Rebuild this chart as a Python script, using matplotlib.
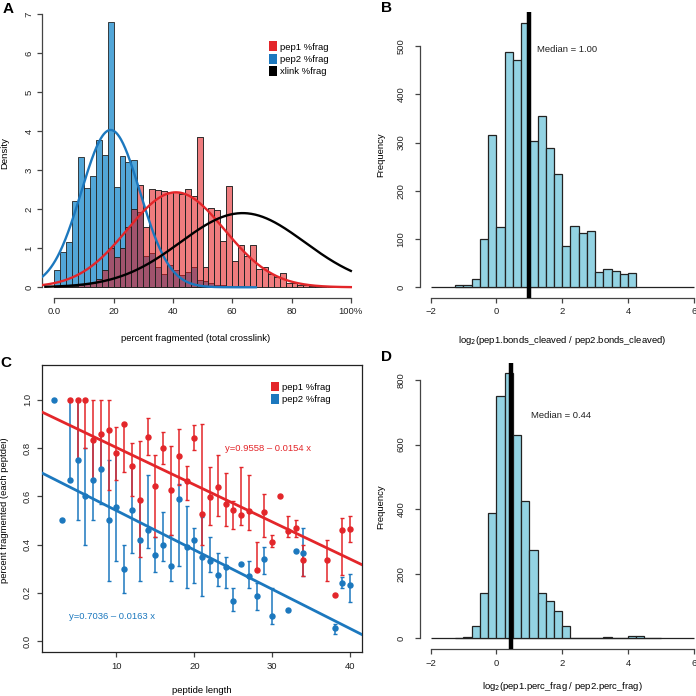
import numpy as np
import matplotlib
matplotlib.use("Agg")
import matplotlib.pyplot as plt
from matplotlib.patches import Patch
import math

plt.rcParams['font.family'] = ['Liberation Sans', 'DejaVu Sans']

# ---------------- data ----------------
# Panel A: density histograms (bin width 0.02, starting at 0)
pep1_density = [0.01, 0.02, 0.03, 0.04, 0.05, 0.08, 0.12, 0.20, 0.45, 1.00,
                0.78, 1.00, 1.55, 2.00, 2.62, 1.55, 2.53, 2.50, 2.47, 2.45,
                2.45, 2.40, 2.53, 2.35, 3.85, 0.53, 2.02, 1.97, 1.18, 2.59,
                0.68, 1.08, 0.80, 1.09, 0.48, 0.52, 0.33, 0.27, 0.37, 0.12,
                0.10, 0.06, 0.05, 0.04, 0.02, 0.01, 0.0, 0.0, 0.0, 0.0]
pep2_density = [0.44, 0.90, 1.17, 2.20, 3.35, 2.55, 2.85, 3.77, 3.40, 6.80,
                2.58, 3.37, 3.20, 3.25, 1.92, 0.80, 0.87, 0.53, 0.34, 0.57,
                0.45, 0.31, 0.39, 0.52, 0.18, 0.15, 0.10, 0.07, 0.05, 0.04,
                0.03, 0.02, 0.01, 0.01]
bin_width_A = 0.02
# fitted normal curves (mean, sd)
pep1_fit = (0.41, 0.164)
pep2_fit = (0.19, 0.099)
xlink_fit = (0.635, 0.21)
A_xticks = [0.0, 0.2, 0.4, 0.6, 0.8, 1.0]
A_xticklabels = ['0.0', '20', '40', '60', '80', '100%']
A_legend = ['pep1 %frag', 'pep2 %frag', 'xlink %frag']

# Panel B: histogram of log2 bonds cleaved ratio (bin width 0.25 from -1.25)
B_counts = [5, 4, 18, 99, 315, 124, 488, 471, 549, 304, 356, 289, 235, 86,
            126, 113, 117, 32, 38, 33, 28, 29]
B_start = -1.25
B_median = 1.00

# Panel C: percent fragmented vs peptide length
pep1_len = [4, 5, 6, 7, 8, 9, 10, 11, 12, 13, 14, 15, 16, 17, 18, 19, 20, 21,
            22, 23, 24, 25, 26, 27, 28, 29, 30, 31, 32, 33, 34, 37, 38, 39, 40]
pep1_mean = [1.0, 1.0, 1.0, 0.833, 0.857, 0.875, 0.778, 0.90, 0.727, 0.583,
             0.847, 0.644, 0.80, 0.626, 0.765, 0.665, 0.843, 0.525, 0.596,
             0.64, 0.566, 0.543, 0.523, 0.539, 0.296, 0.535, 0.411, 0.60,
             0.456, 0.47, 0.335, 0.335, 0.19, 0.46, 0.463]
pep1_lo = [1.0, 0.75, 0.80, 0.667, 0.714, 0.625, 0.667, 0.70, 0.60, 0.35,
           0.77, 0.43, 0.735, 0.44, 0.645, 0.585, 0.79, 0.40, 0.48,
           0.52, 0.478, 0.465, 0.48, 0.46, 0.29, 0.43, 0.39, 0.60,
           0.43, 0.43, 0.27, 0.25, 0.19, 0.273, 0.41]
pep1_hi = [1.0, 1.0, 1.0, 1.0, 1.0, 1.0, 0.889, 0.90, 0.82, 0.83,
           0.925, 0.77, 0.868, 0.81, 0.88, 0.726, 0.895, 0.90, 0.723,
           0.77, 0.695, 0.58, 0.723, 0.69, 0.41, 0.61, 0.44, 0.60,
           0.52, 0.50, 0.40, 0.418, 0.19, 0.508, 0.518]
pep2_len = [2, 3, 4, 5, 6, 7, 8, 9, 10, 11, 12, 13, 14, 15, 16, 17, 18, 19,
            20, 21, 22, 23, 24, 25, 26, 27, 28, 29, 30, 32, 33, 34, 38, 39, 40]
pep2_mean = [1.0, 0.5, 0.667, 0.75, 0.60, 0.667, 0.714, 0.50, 0.556, 0.30,
             0.545, 0.417, 0.462, 0.357, 0.40, 0.312, 0.588, 0.39, 0.42,
             0.35, 0.333, 0.273, 0.306, 0.167, 0.32, 0.27, 0.185, 0.34,
             0.103, 0.128, 0.375, 0.365, 0.055, 0.24, 0.231]
pep2_lo = [1.0, 0.5, 0.667, 0.50, 0.40, 0.50, 0.57, 0.25, 0.333, 0.20,
           0.364, 0.25, 0.385, 0.286, 0.333, 0.25, 0.31, 0.22, 0.24,
           0.185, 0.286, 0.227, 0.22, 0.125, 0.32, 0.22, 0.13, 0.28,
           0.07, 0.128, 0.375, 0.27, 0.03, 0.22, 0.162]
pep2_hi = [1.0, 0.5, 1.0, 1.0, 0.80, 0.83, 0.857, 0.75, 0.778, 0.40,
           0.727, 0.583, 0.69, 0.43, 0.533, 0.44, 0.65, 0.56, 0.47,
           0.515, 0.43, 0.364, 0.35, 0.222, 0.32, 0.33, 0.24, 0.39,
           0.22, 0.128, 0.375, 0.47, 0.07, 0.265, 0.28]
pep1_fit_line = (0.9558, -0.0154)
pep2_fit_line = (0.7036, -0.0163)
C_legend = ['pep1 %frag', 'pep2 %frag']

# Panel D: histogram of log2 perc_frag ratio (bin width 0.25 from -1.25)
D_counts = [1, 5, 38, 141, 389, 750, 821, 630, 425, 274, 141, 117, 86, 38,
            0, 2, 2, 0, 4, 1, 0, 6, 6, 0, 1]
D_start = -1.25
D_median = 0.44

# ---------------- styling ----------------
RED = '#E3262A'
BLUE = '#1C78BE'
BLUE_BAR = '#52A6D8'
RED_BAR = '#E31015'
CYAN_BAR = '#93D3E3'
AX_COL = '#444444'
FS = 6.8

W = H = 696.0
fig = plt.figure(figsize=(6.96, 6.96), dpi=100)


def rect(l, t, r, b):
    return [l / W, 1 - b / H, (r - l) / W, (b - t) / H]


def place_labels(ax, r, xl, yl):
    l, t, rr, b = r
    ax.xaxis.set_label_coords((xl[0] - l) / (rr - l), (b - xl[1]) / (b - t))
    ax.yaxis.set_label_coords((yl[0] - l) / (rr - l), (b - yl[1]) / (b - t))


def r_style(ax, xb, yb):
    for s in ['top', 'right']:
        ax.spines[s].set_visible(False)
    ax.spines['left'].set_bounds(*yb)
    ax.spines['bottom'].set_bounds(*xb)
    for s in ['left', 'bottom']:
        ax.spines[s].set_color(AX_COL)
        ax.spines[s].set_linewidth(0.9)
    ax.tick_params(colors=AX_COL, labelcolor='#222222', length=3.5, width=0.9,
                   labelsize=FS)


def normal_pdf(x, mu, sd):
    return np.exp(-0.5 * ((x - mu) / sd) ** 2) / (sd * math.sqrt(2 * math.pi))


# ---------------- Panel A ----------------
rA = (42.4, 3.1, 362.7, 298.2)
axA = fig.add_axes(rect(*rA))
axA.set_xlim(-0.04, 1.04)
axA.set_ylim(-0.28, 7.28)
lefts2 = np.arange(len(pep2_density)) * bin_width_A
lefts1 = np.arange(len(pep1_density)) * bin_width_A
axA.bar(lefts2, pep2_density, width=bin_width_A, align='edge', color=BLUE_BAR,
        edgecolor='#222222', linewidth=0.6, zorder=2)
axA.bar(lefts1, pep1_density, width=bin_width_A, align='edge', color=RED_BAR,
        alpha=0.55, edgecolor='#222222', linewidth=0.6, zorder=3)
axA.bar(lefts1, pep1_density, width=bin_width_A, align='edge', fill=False,
        edgecolor='#222222', linewidth=0.6, zorder=3.5)
xs = np.linspace(-0.04, 0.68, 300)
axA.plot(xs, normal_pdf(xs, *pep2_fit), color=BLUE, lw=1.7, zorder=5)
xs = np.linspace(-0.04, 1.0, 400)
axA.plot(xs, normal_pdf(xs, *pep1_fit), color=RED, lw=1.7, zorder=5)
xs = np.linspace(-0.03, 1.0, 400)
axA.plot(xs, normal_pdf(xs, *xlink_fit), color='black', lw=1.7, zorder=5)
axA.set_xticks(A_xticks)
axA.set_xticklabels(A_xticklabels)
axA.set_yticks(range(0, 8))
axA.set_yticklabels([str(v) for v in range(0, 8)], rotation=90, va='center')
r_style(axA, (0, 1), (0, 7))
axA.tick_params(axis='x', pad=3)
axA.tick_params(axis='y', pad=3)
axA.set_xlabel('percent fragmented (total crosslink)', fontsize=FS)
axA.set_ylabel('Density', fontsize=FS)
place_labels(axA, rA, (196, 334), (9, 153))
axA.legend(handles=[Patch(facecolor=c, edgecolor='none') for c in (RED, BLUE, 'black')],
           labels=A_legend, loc='upper left',
           bbox_to_anchor=(269 / W, 1 - 41.5 / H), bbox_transform=fig.transFigure,
           frameon=False, fontsize=FS, handlelength=0.8, handleheight=1.2,
           handletextpad=0.35, labelspacing=0.25, borderpad=0, borderaxespad=0)

# ---------------- Panel B ----------------
rB = (420.0, 12.0, 704.4, 298.2)
axB = fig.add_axes(rect(*rB))
axB.set_xlim(-2.32, 6.32)
axB.set_ylim(-22.8, 570.9)
edgesB = B_start + np.arange(len(B_counts)) * 0.25
axB.hlines(0, -2, 6, color='#222222', lw=0.9, zorder=1)
axB.bar(edgesB, B_counts, width=0.25, align='edge', color=CYAN_BAR,
        edgecolor='#222222', linewidth=0.9, zorder=2)
axB.axvline(B_median, color='black', lw=3.2, zorder=4)
axB.text(1.23, 493, 'Median = %.2f' % B_median, fontsize=FS, va='center',
         ha='left', color='#222222')
axB.set_xticks([-2, 0, 2, 4, 6])
axB.set_xticklabels(['\u22122', '0', '2', '4', '6'])
axB.set_yticks([0, 100, 200, 300, 400, 500])
axB.set_yticklabels(['0', '100', '200', '300', '400', '500'], rotation=90, va='center')
r_style(axB, (-2, 6), (0, 500))
axB.tick_params(axis='x', pad=3)
axB.tick_params(axis='y', pad=7)
axB.set_xlabel('log$_2$(pep1.bonds_cleaved / pep2.bonds_cleaved)', fontsize=FS)
axB.set_ylabel('Frequency', fontsize=FS)
place_labels(axB, rB, (562, 334), (385, 155))

# ---------------- Panel C ----------------
rC = (42.3, 365.0, 362.0, 651.7)
axC = fig.add_axes(rect(*rC))
axC.set_xlim(0.48, 41.52)
axC.set_ylim(-0.044, 1.144)


def draw_series(x, m, lo, hi, col):
    x = np.array(x, float); m = np.array(m); lo = np.array(lo); hi = np.array(hi)
    has = (hi - lo) > 1e-6
    axC.errorbar(x[has], m[has], yerr=[m[has] - lo[has], hi[has] - m[has]],
                 fmt='o', color=col, ms=3.6, elinewidth=1.1, capsize=1.6,
                 capthick=1.0, zorder=3)
    axC.plot(x[~has], m[~has], 'o', color=col, ms=3.6, zorder=3)


draw_series(pep2_len, pep2_mean, pep2_lo, pep2_hi, BLUE)
draw_series(pep1_len, pep1_mean, pep1_lo, pep1_hi, RED)
axC.axline((0, pep1_fit_line[0]), slope=pep1_fit_line[1], color=RED, lw=2.0, zorder=4)
axC.axline((0, pep2_fit_line[0]), slope=pep2_fit_line[1], color=BLUE, lw=2.0, zorder=4)
axC.text(29.4, 0.80, 'y=%.4f \u2013 %.4f x' % (pep1_fit_line[0], -pep1_fit_line[1]),
         color=RED, fontsize=FS, ha='center', va='center')
axC.text(9.4, 0.103, 'y=%.4f \u2013 %.4f x' % (pep2_fit_line[0], -pep2_fit_line[1]),
         color=BLUE, fontsize=FS, ha='center', va='center')
axC.set_xticks([10, 20, 30, 40])
axC.set_yticks([0.0, 0.2, 0.4, 0.6, 0.8, 1.0])
axC.set_yticklabels(['0.0', '0.2', '0.4', '0.6', '0.8', '1.0'], rotation=90, va='center')
for s in axC.spines.values():
    s.set_color('#222222')
    s.set_linewidth(0.9)
axC.tick_params(colors=AX_COL, labelcolor='#222222', length=3.5, width=0.9, labelsize=FS)
axC.tick_params(axis='x', pad=4)
axC.tick_params(axis='y', pad=4)
axC.set_xlabel('peptide length', fontsize=FS)
axC.set_ylabel('percent fragmented (each peptdei)', fontsize=FS)
place_labels(axC, rC, (202, 686), (9, 510))
axC.legend(handles=[Patch(facecolor=c, edgecolor='none') for c in (RED, BLUE)],
           labels=C_legend, loc='upper left',
           bbox_to_anchor=(271 / W, 1 - 381.5 / H), bbox_transform=fig.transFigure,
           frameon=False, fontsize=FS, handlelength=0.8, handleheight=1.2,
           handletextpad=0.35, labelspacing=0.25, borderpad=0, borderaxespad=0)

# ---------------- Panel D ----------------
rD = (420.0, 362.6, 704.4, 648.9)
axD = fig.add_axes(rect(*rD))
axD.set_xlim(-2.32, 6.32)
axD.set_ylim(-32.8, 853.8)
edgesD = D_start + np.arange(len(D_counts)) * 0.25
axD.hlines(0, -2, 6, color='#222222', lw=0.9, zorder=1)
axD.bar(edgesD, D_counts, width=0.25, align='edge', color=CYAN_BAR,
        edgecolor='#222222', linewidth=0.9, zorder=2)
axD.axvline(D_median, color='black', lw=3.2, zorder=4)
axD.text(1.04, 690, 'Median = %.2f' % D_median, fontsize=FS, va='center',
         ha='left', color='#222222')
axD.set_xticks([-2, 0, 2, 4, 6])
axD.set_xticklabels(['\u22122', '0', '2', '4', '6'])
axD.set_yticks([0, 200, 400, 600, 800])
axD.set_yticklabels(['0', '200', '400', '600', '800'], rotation=90, va='center')
r_style(axD, (-2, 6), (0, 800))
axD.tick_params(axis='x', pad=4)
axD.tick_params(axis='y', pad=7)
axD.set_xlabel('log$_2$(pep1.perc_frag / pep2.perc_frag)', fontsize=FS)
axD.set_ylabel('Frequency', fontsize=FS)
place_labels(axD, rD, (562, 680), (385, 507))

# panel letters
for lab, (px, py) in zip('ABCD', [(8, 9), (386, 8), (6, 363), (386, 357)]):
    fig.text(px / W, 1 - py / H, lab, fontsize=11, fontweight='bold',
             ha='center', va='center')

fig.savefig('out.png', dpi=100)
